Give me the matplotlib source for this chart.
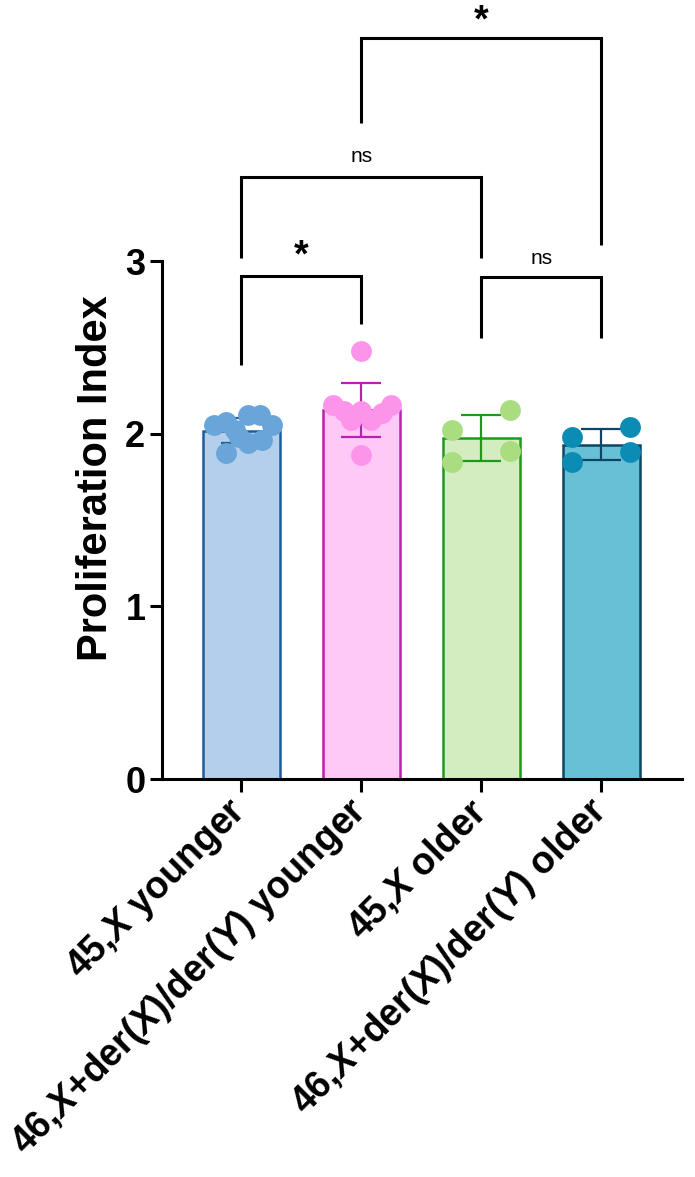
import numpy as np
import matplotlib.pyplot as plt

plt.rcParams['font.family'] = ['Liberation Sans', 'DejaVu Sans']
plt.rcParams['mathtext.fontset'] = 'custom'
plt.rcParams['mathtext.it'] = 'Liberation Sans:italic:bold'
plt.rcParams['mathtext.rm'] = 'Liberation Sans:bold'
plt.rcParams['mathtext.bf'] = 'Liberation Sans:bold'

# data
labels = ['45,$X$ younger', '46,$X$+der($X$)/der($Y$) younger',
          '45,$X$ older', '46,$X$+der($X$)/der($Y$) older']
young_45x = [2.05, 2.07, 2.11, 2.11, 2.05, 1.886, 1.944, 1.98, 1.963, 2.02]
young_46x = [2.48, 2.165, 2.13, 2.08, 2.13, 2.08, 2.12, 2.165, 1.876]
old_45x = [2.02, 2.14, 1.836, 1.90]
old_46x = [1.98, 2.04, 1.836, 1.894]
series = [young_45x, young_46x, old_45x, old_46x]

# comparisons: (group a, group b, label)
comparisons = [(0, 1, '*'), (2, 3, 'ns'), (0, 2, 'ns'), (1, 3, '*')]

# styling
fills = ['#b4cfec', '#fec9f6', '#d3edc0', '#68c0d7']
edges = ['#1b5d9c', '#bb1fae', '#1d9a1c', '#0d4563']
dots = ['#6aa5da', '#fc95ea', '#a9dd80', '#0b8cb4']
jitter = [[-0.23, -0.13, 0.06, 0.16, 0.26, -0.13, 0.06, -0.02, 0.17, -0.05],
          [0, -0.235, -0.14, -0.085, 0, 0.085, 0.17, 0.25, 0],
          [-0.24, 0.24, -0.24, 0.24],
          [-0.24, 0.24, -0.24, 0.24]]
# bracket geometry: (top, left leg bottom, right leg bottom, text y)
bracket_geom = [(2.913, 2.398, 2.635, 3.025),
                (2.906, 2.554, 2.554, 3.016),
                (3.488, 3.016, 3.016, 3.604),
                (4.290, 3.801, 3.093, 4.385)]

fig = plt.figure(figsize=(6.95, 11.77), dpi=100)
ax = fig.add_axes([0.2331, 0.3381, 0.7482, 0.4401])

xs = np.arange(len(series))
means = [np.mean(s) for s in series]
sds = [np.std(s, ddof=1) for s in series]

ax.bar(xs, means, width=0.645, color=fills, edgecolor=edges, linewidth=1.8, zorder=1)
for i in range(len(series)):
    ax.errorbar(xs[i], means[i], yerr=sds[i], fmt='none', ecolor=edges[i],
                elinewidth=1.6, capsize=14.5, capthick=1.6, zorder=2)
    ax.scatter(xs[i] + np.array(jitter[i]), series[i], s=225, color=dots[i],
               linewidths=0, zorder=3)

for (a, b, txt), (top, la, lb, ty) in zip(comparisons, bracket_geom):
    ax.plot([a, a, b, b], [la, top, top, lb], color='black', lw=2.2,
            clip_on=False, solid_joinstyle='miter', solid_capstyle='butt')
    if txt == '*':
        ax.text((a + b) / 2, ty, txt, ha='center', va='center', fontsize=27,
                fontweight='bold', clip_on=False)
    else:
        ax.text((a + b) / 2, ty, txt, ha='center', va='center', fontsize=15,
                clip_on=False)

ax.set_xlim(-0.66, 3.673)
ax.set_ylim(0, 3)
ax.set_yticks([0, 1, 2, 3])
ax.set_yticklabels(['0', '1', '2', '3'], fontsize=26, fontweight='bold')
ax.set_xticks(xs)
ax.set_xticklabels(labels, fontsize=27, fontweight='bold', rotation=45,
                   ha='right', va='center', rotation_mode='anchor')
ax.set_ylabel('Proliferation Index', fontsize=30, fontweight='bold')
ax.yaxis.set_label_coords(-0.088, 0.581)

for side in ['top', 'right']:
    ax.spines[side].set_visible(False)
for side in ['left', 'bottom']:
    ax.spines[side].set_linewidth(2.2)
ax.tick_params(axis='y', length=9, width=2.2, pad=3)
ax.tick_params(axis='x', length=9, width=2.2, pad=10)

fig.savefig('out.png', dpi=100)
